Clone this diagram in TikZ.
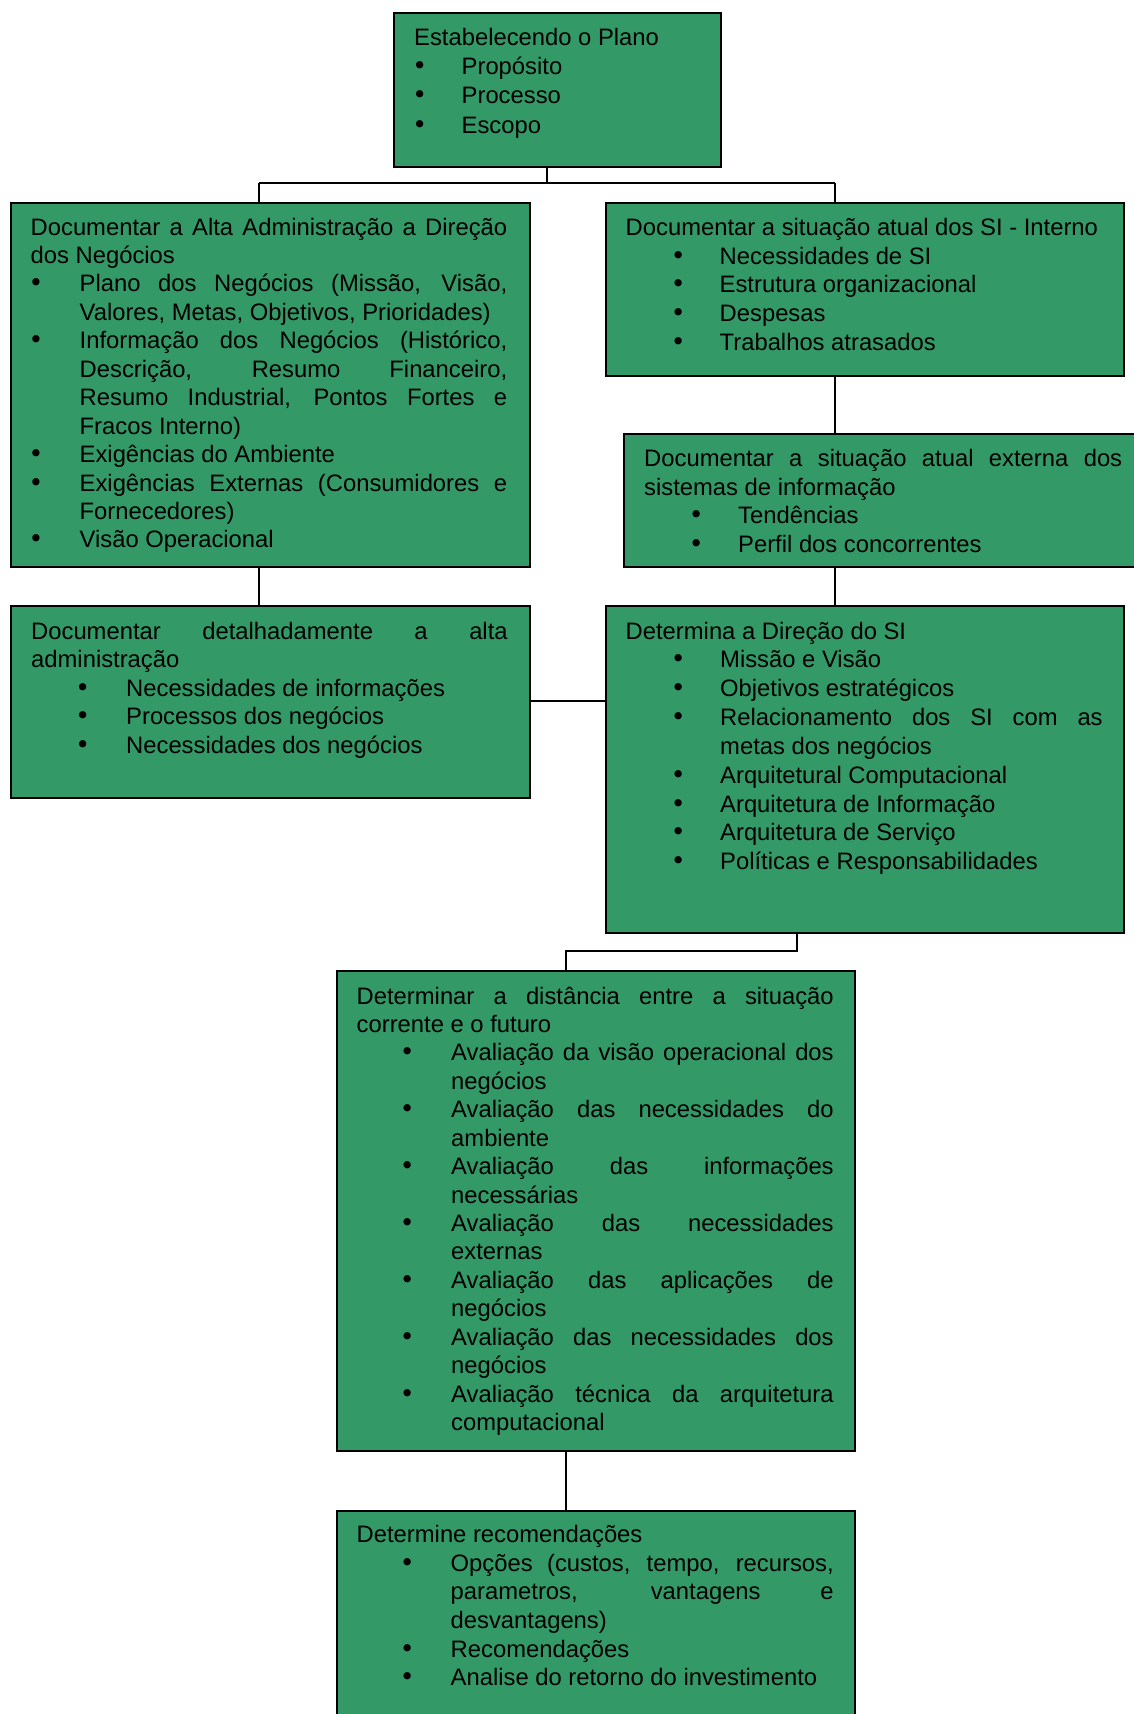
\documentclass[tikz,border=0pt]{standalone}
\usepackage{fontspec}
\setmainfont{Liberation Sans}
\newfontfamily\bulfont{DejaVu Sans}
\usetikzlibrary{calc}

\definecolor{boxgreen}{RGB}{51,153,102}

% bullet list helpers: \blc = bullet centre, \itl = item text indent
\newlength\itl
\newlength\blc
\newcommand\bodysetup[1]{%
  \fontsize{23.8pt}{#1}\selectfont
  \parindent=0pt \parskip=0pt
  \tolerance=10000 \hbadness=10000 \hfuzz=2pt
  \hyphenpenalty=10000 \exhyphenpenalty=10000}
\newcommand\bul{{\bulfont\fontsize{25pt}{25pt}\selectfont •}}
\newcommand\itm[1]{{\leftskip=\itl\relax\noindent
  \hskip-\dimexpr\itl-\blc\relax\makebox[0pt][c]{\bul}%
  \hskip\dimexpr\itl-\blc\relax #1\par}}
% width, bullet centre, item indent, line pitch, contents
\newcommand\boxtext[5]{\begin{minipage}[t]{#1}\bodysetup{#4}%
  \setlength\blc{#2}\setlength\itl{#3}#5\end{minipage}}

\begin{document}
\begin{tikzpicture}[x=1pt,y=-1pt,
  box/.style={draw=black, line width=2pt, fill=boxgreen, rectangle,
    inner sep=0pt, anchor=north west},
  txt/.style={inner sep=0pt, anchor=base west},
  link/.style={draw=black, line width=2pt}]

\path[use as bounding box] (0,0) rectangle (1134,1714);
\begin{scope}
\clip (0,0) rectangle (1134,1714);

% boxes
\node[box, minimum width=327pt, minimum height=154pt] (b1) at (393,12) {};
\node[box, minimum width=519pt, minimum height=364pt] (b2) at (10,202) {};
\node[box, minimum width=518pt, minimum height=173pt] (b3) at (605,202) {};
\node[box, minimum width=518pt, minimum height=133pt] (b4) at (623,433) {};
\node[box, minimum width=519pt, minimum height=192pt] (b5) at (10,605) {};
\node[box, minimum width=518pt, minimum height=327pt] (b6) at (605,605) {};
\node[box, minimum width=518pt, minimum height=480pt] (b7) at (336,970) {};
\node[box, minimum width=518pt, minimum height=260pt] (b8) at (336,1510) {};

% texts
\node[txt] (t1) at ($(b1.north west)+(21,33.5)$) {\boxtext{290pt}{5.5pt}{47.5pt}{29.2pt}{%
  Estabelecendo o Plano\par
  \itm{Propósito}
  \itm{Processo}
  \itm{Escopo}}};

\node[txt] (t2) at ($(b2.north west)+(20.5,33)$) {\boxtext{476.5pt}{5.3pt}{49pt}{28.45pt}{%
  Documentar a Alta Administração a Direção \linebreak dos Negócios\par
  \itm{Plano dos Negócios (Missão, Visão, \linebreak Valores, Metas, Objetivos, Prioridades)}
  \itm{Informação dos Negócios (Histórico, \linebreak Descrição, Resumo Financeiro, \linebreak Resumo Industrial, Pontos Fortes e \linebreak Fracos Interno)}
  \itm{Exigências do Ambiente}
  \itm{Exigências Externas (Consumidores e \linebreak Fornecedores)}
  \itm{Visão Operacional}}};

\node[txt] (t3) at ($(b3.north west)+(20.5,33.5)$) {\boxtext{477pt}{52.5pt}{94pt}{28.7pt}{%
  Documentar a situação atual dos SI - Interno\par
  \itm{Necessidades de SI}
  \itm{Estrutura organizacional}
  \itm{Despesas}
  \itm{Trabalhos atrasados}}};

\node[txt] (t4) at ($(b4.north west)+(21,33.5)$) {\boxtext{478pt}{52pt}{94pt}{28.6pt}{%
  Documentar a situação atual externa dos \linebreak sistemas de informação\par
  \itm{Tendências}
  \itm{Perfil dos concorrentes}}};

\node[txt] (t5) at ($(b5.north west)+(21,34)$) {\boxtext{476.5pt}{51.5pt}{95pt}{28.6pt}{%
  Documentar detalhadamente a alta \linebreak administração\par
  \itm{Necessidades de informações}
  \itm{Processos dos negócios}
  \itm{Necessidades dos negócios}}};

\node[txt] (t6) at ($(b6.north west)+(20.5,34)$) {\boxtext{477pt}{52.5pt}{94.5pt}{28.85pt}{%
  Determina a Direção do SI\par
  \itm{Missão e Visão}
  \itm{Objetivos estratégicos}
  \itm{Relacionamento dos SI com as \linebreak metas dos negócios}
  \itm{Arquitetural Computacional}
  \itm{Arquitetura de Informação}
  \itm{Arquitetura de Serviço}
  \itm{Políticas e Responsabilidades}}};

\node[txt] (t7) at ($(b7.north west)+(20.5,34)$) {\boxtext{477pt}{50.5pt}{94.5pt}{28.43pt}{%
  Determinar a distância entre a situação \linebreak corrente e o futuro\par
  \itm{Avaliação da visão operacional dos \linebreak negócios}
  \itm{Avaliação das necessidades do \linebreak ambiente}
  \itm{Avaliação das informações \linebreak necessárias}
  \itm{Avaliação das necessidades \linebreak externas}
  \itm{Avaliação das aplicações de \linebreak negócios}
  \itm{Avaliação das necessidades dos \linebreak negócios}
  \itm{Avaliação técnica da arquitetura \linebreak computacional}}};

\node[txt] (t8) at ($(b8.north west)+(20.5,32.5)$) {\boxtext{477pt}{50.5pt}{94pt}{28.65pt}{%
  Determine recomendações\par
  \itm{Opções (custos, tempo, recursos, \linebreak parametros, vantagens e \linebreak desvantagens)}
  \itm{Recomendações}
  \itm{Analise do retorno do investimento}}};

% junction points of the connectors
\coordinate (j1) at (547,183);
\coordinate (jL) at (259,183);
\coordinate (jR) at (835,183);
\coordinate (hm) at (0,701);
\coordinate (k1) at (797,951);
\coordinate (k2) at (566,951);

% connectors
\draw[link] (j1 |- b1.south) -- (j1);
\draw[link] (jL) -- (jR);
\draw[link] (jL) -- (jL |- b2.north);
\draw[link] (jR) -- (jR |- b3.north);
\draw[link] (jR |- b3.south) -- (jR |- b4.north);
\draw[link] (jL |- b2.south) -- (jL |- b5.north);
\draw[link] (jR |- b4.south) -- (jR |- b6.north);
\draw[link] (b5.east |- hm) -- (b6.west |- hm);
\draw[link] (k1 |- b6.south) -- (k1) -- (k2) -- (k2 |- b7.north);
\draw[link] (k2 |- b7.south) -- (k2 |- b8.north);
\end{scope}
\end{tikzpicture}
\end{document}
